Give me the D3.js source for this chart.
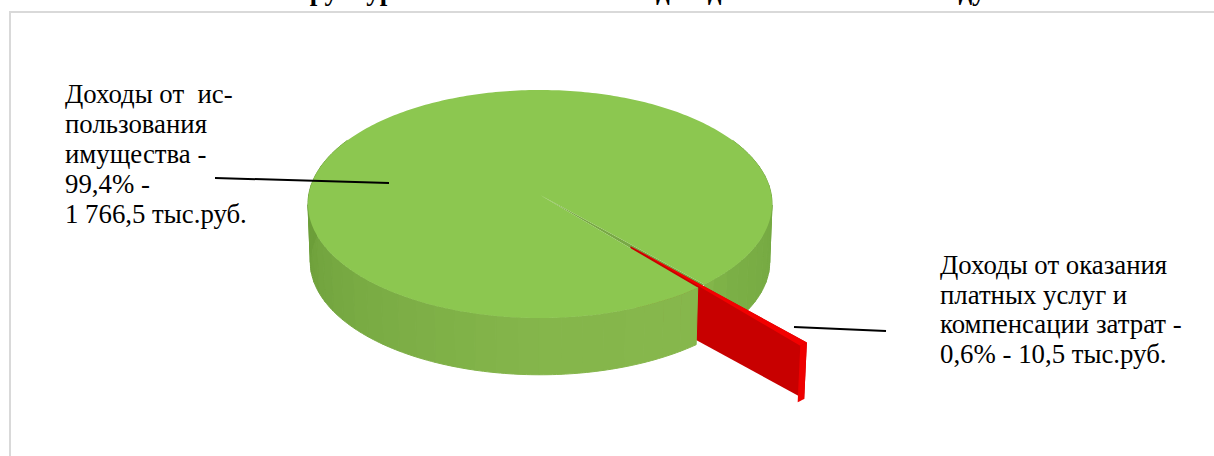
<!DOCTYPE html>
<html>
<head>
<meta charset="utf-8">
<script src="https://cdn.jsdelivr.net/npm/d3@7"></script>
<style>
  body { margin: 0; background: #fff; }
  text { font-family: "Liberation Serif", serif; fill: #000; }
</style>
</head>
<body>
<div id="chart"></div>
<script>
// data
const categories = ["Доходы от использования имущества", "Доходы от оказания платных услуг и компенсации затрат"];
const values = [1766.5, 10.5];
const titleWords = ["Структура", "неналоговых", "доходов", "в 2019 году"];
const labelLeft = ["Доходы от  ис-", "пользования", "имущества -", "99,4% -", "1 766,5 тыс.руб."];
const labelRight = ["Доходы от оказания", "платных услуг и", "компенсации затрат -", "0,6% - 10,5 тыс.руб."];

const wallAngles = [90, 130, 140, 180, 230, 270];
const wallColors = ["#74a741", "#7cb046", "#86b74c", "#85b64b", "#78aa43", "#6c9e39"];

const width = 1214, height = 456;
const svg = d3.select("#chart").append("svg")
    .attr("width", width)
    .attr("height", height)
    .style("display", "block");

// chart frame, runs off the right and bottom of the picture
svg.append("rect")
    .attr("x", 10).attr("y", 12)
    .attr("width", width + 20).attr("height", height + 20)
    .attr("fill", "#fff")
    .attr("stroke", "#d9d9d9")
    .attr("stroke-width", 2);

// perspective disc, apex is where the slices meet
const cx = 540, cy = 195, R = 231.3, squash = 113.3, persp = 0.0789;
const depth = 58, bottomScale = 0.99;
const explode = 0.577;
const rad = d => d * Math.PI / 180;
const redMiddle = rad(139.1);

function project(u, v, low) {
    const w = 1 - persp * v;
    const X = R * u / w, Y = squash * v / w;
    return low
        ? [cx + X * bottomScale, cy + depth + Y * bottomScale]
        : [cx + X, cy + Y];
}
// point on a slice: angle clockwise from 12 o'clock, r in radii
function pt(a, r, low, off) {
    const o = off || 0;
    return project(r * Math.sin(a) + o * Math.sin(redMiddle), -r * Math.cos(a) - o * Math.cos(redMiddle), low);
}

const redSpan = 2 * Math.PI * values[1] / d3.sum(values);
const pie = d3.pie().sort(null).startAngle(redMiddle + redSpan / 2).endAngle(redMiddle + redSpan / 2 + 2 * Math.PI);
const slices = pie(values);
const green = slices[0], red = slices[1];
const line = d3.line();
const wallColor = d3.scaleLinear().domain(wallAngles.map(rad)).range(wallColors).clamp(true);

// red comes last in the pie, so it sits one full turn past the green start
const redFrom = red.startAngle - 2 * Math.PI, redTo = red.endAngle - 2 * Math.PI;

const facet = rad(5);
function wallFacets(from, to) {
    const out = [];
    for (let a = from; a < to - 1e-6; a += facet) out.push([a, Math.min(a + facet, to)]);
    return out;
}
function drawFacets(list) {
    list.forEach(f => {
        const c = wallColor((f[0] + f[1]) / 2);
        const top = arcPoints(f[0], f[1], 1, false);
        const low = arcPoints(f[0], f[1], 1, true).reverse();
        svg.append("path")
            .attr("d", line(top.concat(low)) + "Z")
            .attr("fill", c).attr("stroke", c).attr("stroke-width", 1);
    });
}
function arcPoints(a0, a1, r, low, off) {
    const n = Math.max(2, Math.ceil((a1 - a0) / rad(1)));
    return d3.range(n + 1).map(i => pt(a0 + (a1 - a0) * i / n, r, low, off));
}

// wall on the right of the cut
drawFacets(wallFacets(rad(60), redFrom));

// inside of the notch in the green slice
svg.append("path")
    .attr("d", line([pt(0, 0, false), pt(redFrom, 1, false), pt(redTo, 1, false)]) + "Z")
    .attr("fill", "#78a845");

// red slice, side and outer face
svg.append("path")
    .attr("d", line([pt(0, 0, false, explode), pt(redFrom, 1, false, explode), pt(redFrom, 1, true, explode), pt(0, 0, true, explode)]) + "Z")
    .attr("fill", "#c80000");
svg.append("path")
    .attr("d", line(arcPoints(redFrom, redTo, 1, false, explode)
        .concat(arcPoints(redFrom, redTo, 1, true, explode).reverse())) + "Z")
    .attr("fill", "#ee0000");

// wall on the left of the cut, then the green top over everything
drawFacets(wallFacets(redTo, rad(300)));
svg.append("path")
    .attr("d", line([pt(0, 0, false)].concat(arcPoints(green.startAngle, green.endAngle, 1, false))) + "Z")
    .attr("fill", "#8cc750");

// red top
svg.append("path")
    .attr("d", line([pt(0, 0, false, explode)].concat(arcPoints(redFrom, redTo, 1, false, explode))) + "Z")
    .attr("fill", "#f20000");

// leader lines
const leaders = [[[215, 178], [389, 183]], [[794, 327], [886, 331]]];
svg.selectAll("line.leader").data(leaders).enter().append("line")
    .attr("class", "leader")
    .attr("x1", d => d[0][0]).attr("y1", d => d[0][1])
    .attr("x2", d => d[1][0]).attr("y2", d => d[1][1])
    .attr("stroke", "#000").attr("stroke-width", 2);

// labels
function drawLabel(lines, x, y, lh) {
    svg.append("g").selectAll("text").data(lines).enter().append("text")
        .attr("x", x)
        .attr("y", (d, i) => y + i * lh)
        .attr("font-size", 26.8)
        .style("white-space", "pre")
        .text(d => d);
}
drawLabel(labelLeft, 65, 103, 30);
drawLabel(labelRight, 940, 274, 29.5);

// title, only its lower edge is inside the picture
const titleX = [277, 430, 656, 852];
svg.append("g").selectAll("text").data(titleWords).enter().append("text")
    .attr("x", (d, i) => titleX[i])
    .attr("y", 0)
    .attr("font-size", 27)
    .attr("font-weight", "bold")
    .text(d => d);
</script>
</body>
</html>
